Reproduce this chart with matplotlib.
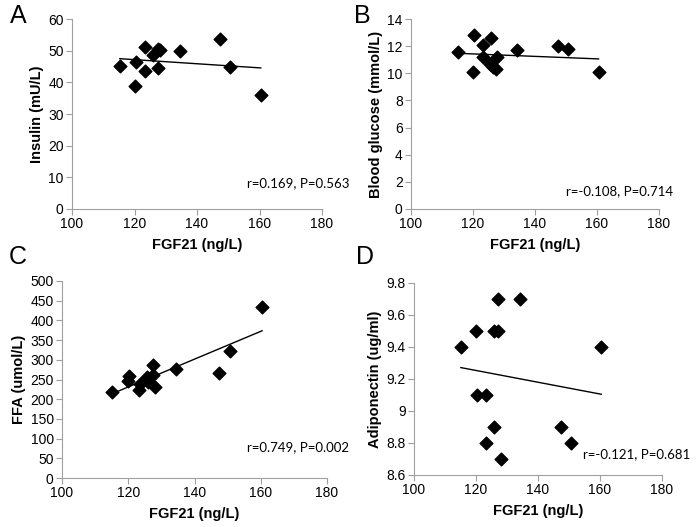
import numpy as np
import matplotlib
matplotlib.use("Agg")
import matplotlib.pyplot as plt

plt.rcParams["font.family"] = ["Liberation Sans", "DejaVu Sans"]

# FGF21 values (ng/L), read per panel
fgf21_a = [115.3, 120.1, 120.4, 123.4, 123.3, 126.0, 127.4, 127.4, 128.0, 134.4, 147.5, 150.7, 160.4]
insulin = [45.2, 38.7, 46.5, 43.6, 51.3, 48.6, 44.5, 50.5, 50.2, 49.8, 53.8, 45.0, 36.1]

fgf21_b = [115.1, 120.0, 120.2, 123.2, 123.2, 125.7, 125.6, 126.3, 127.3, 127.7, 134.3, 147.5, 150.7, 160.5]
glucose = [11.59, 10.10, 12.82, 12.11, 11.18, 12.6, 10.66, 10.49, 10.29, 11.18, 11.69, 12.03, 11.81, 10.10]

fgf21_c = [115.1, 119.9, 120.2, 123.3, 123.4, 125.7, 125.9, 127.4, 127.6, 128.0, 134.3, 147.5, 150.8, 160.4]
ffa = [219, 246, 258, 224, 239, 257, 243, 286, 261, 231, 277, 266, 323, 433]

fgf21_d = [115.1, 120.0, 120.2, 123.1, 123.3, 125.8, 125.8, 127.2, 127.2, 128.0, 134.3, 147.5, 150.7, 160.4]
adiponectin = [9.4, 9.5, 9.1, 8.8, 9.1, 9.5, 8.9, 9.5, 9.7, 8.7, 9.7, 8.9, 8.8, 9.4]

panels = [
    # letter, x, y, ylabel, ylim, yticks, ytick labels, stats text, axes rect, letter pos, stats pos
    ("A", fgf21_a, insulin, "Insulin (mU/L)", (0, 60), np.arange(0, 61, 10), None,
     "r=0.169, P=0.563", [72, 19, 250, 190], (10, 16), (247, 183)),
    ("B", fgf21_b, glucose, "Blood glucose (mmol/L)", (0, 14), np.arange(0, 15, 2), None,
     "r=-0.108, P=0.714", [411, 19, 248, 190], (354, 16), (566, 191)),
    ("C", fgf21_c, ffa, "FFA (umol/L)", (0, 500), np.arange(0, 501, 50), None,
     "r=0.749, P=0.002", [62, 281, 265, 197], (9, 257), (247, 447)),
    ("D", fgf21_d, adiponectin, "Adiponectin (ug/ml)", (8.6, 9.8), [8.6, 8.8, 9.0, 9.2, 9.4, 9.6, 9.8],
     ["8.6", "8.8", "9", "9.2", "9.4", "9.6", "9.8"],
     "r=-0.121, P=0.681", [414, 283, 248, 192], (356, 257), (583, 454)),
]

W, H = 696, 527
fig = plt.figure(figsize=(W / 100, H / 100), dpi=100)
spine_color = "#a0a0a0"

for letter, x, y, ylabel, ylim, yticks, ylabels, stats, rect, lpos, spos in panels:
    l, t, w, h = rect
    ax = fig.add_axes([l / W, 1 - (t + h) / H, w / W, h / H])
    x = np.asarray(x)
    y = np.asarray(y)
    ax.scatter(x, y, marker="D", s=42, color="black", zorder=3, clip_on=False)
    slope, icpt = np.polyfit(x, y, 1)
    xl = np.array([x.min(), x.max()])
    ax.plot(xl, slope * xl + icpt, color="black", lw=1)

    ax.set_xlim(100, 180)
    ax.set_xticks([100, 120, 140, 160, 180])
    ax.set_ylim(*ylim)
    ax.set_yticks(yticks)
    if ylabels is not None:
        ax.set_yticklabels(ylabels)
    for side in ("top", "right"):
        ax.spines[side].set_visible(False)
    for side in ("left", "bottom"):
        ax.spines[side].set_color(spine_color)
    ax.tick_params(axis="both", colors=spine_color, labelcolor="black", labelsize=10,
                   direction="out", length=4, pad=2)
    ax.set_xlabel("FGF21 (ng/L)", fontsize=10.5, fontweight="bold", labelpad=5)
    ax.set_ylabel(ylabel, fontsize=10.5, fontweight="bold", labelpad=3)

    fig.text(lpos[0] / W, 1 - lpos[1] / H, letter, fontsize=18, va="center", ha="left")
    fig.text(spos[0] / W, 1 - spos[1] / H, stats, fontsize=9.5, va="center", ha="left",
             family=["Lato", "DejaVu Sans"])

fig.savefig("out.png", dpi=100)
